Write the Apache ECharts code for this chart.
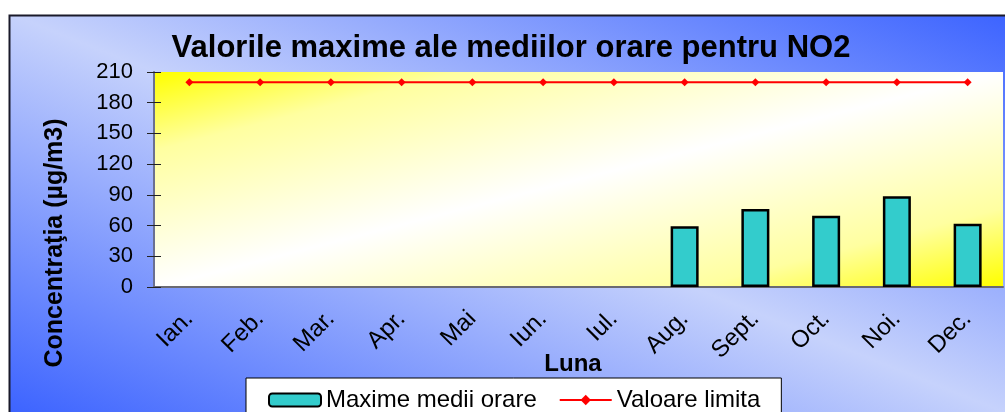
<!DOCTYPE html>
<html>
<head>
<meta charset="utf-8">
<script src="https://cdn.jsdelivr.net/npm/echarts@6/dist/echarts.min.js"></script>
<style>
  html, body { margin: 0; padding: 0; background: #fff; }
  #main { width: 1005px; height: 412px; }
</style>
</head>
<body>
<div id="main"></div>
<script>
(function () {
  var myChart = echarts.init(document.getElementById('main'));

  // lunile anului
  var months = ['Ian.', 'Feb.', 'Mar.', 'Apr.', 'Mai', 'Iun.', 'Iul.', 'Aug.', 'Sept.', 'Oct.', 'Noi.', 'Dec.'];
  // maxime ale mediilor orare (µg/m3), fara date ian.-iul.
  var maxHourly = [null, null, null, null, null, null, null, 59.4, 76.2, 69.6, 88.6, 61.8];
  // valoare limita
  var limitValue = [200, 200, 200, 200, 200, 200, 200, 200, 200, 200, 200, 200];

  var font = '"Liberation Sans", Arial, sans-serif';

  var option = {
    animation: false,
    title: {
      text: 'Valorile maxime ale mediilor orare pentru NO2',
      left: 506,
      textAlign: 'center',
      top: 28,
      textStyle: { fontFamily: font, fontSize: 31, fontWeight: 'bold', color: '#000' }
    },
    graphic: [
      {
        type: 'rect', z: -10, silent: true,
        shape: { x: 9.5, y: 15.5, width: 1005, height: 405 },
        style: {
          fill: {
            type: 'linear', global: true,
            x: 370, y: 555, x2: 644, y2: -129,
            colorStops: [
              { offset: 0, color: '#3d64ff' },
              { offset: 0.5, color: '#c6d2fc' },
              { offset: 1, color: '#3d64ff' }
            ]
          },
          stroke: '#1a1a2a', lineWidth: 2
        }
      },
      {
        type: 'text', silent: true,
        x: 55, y: 243, rotation: Math.PI / 2,
        style: {
          text: 'Concentraţia (µg/m3)',
          font: 'bold 25px ' + font,
          fill: '#000', align: 'center', verticalAlign: 'middle'
        }
      },
      {
        type: 'text', silent: true,
        x: 573, y: 364,
        style: {
          text: 'Luna',
          font: 'bold 24px ' + font,
          fill: '#000', align: 'center', verticalAlign: 'middle'
        }
      }
    ],
    legend: {
      left: 246, top: 378,
      padding: [10, 21, 14, 22],
      itemGap: 22,
      itemWidth: 52,
      itemHeight: 13,
      backgroundColor: '#fff',
      borderColor: '#000',
      borderWidth: 1,
      borderRadius: 0,
      textStyle: { fontFamily: font, fontSize: 24, color: '#000' },
      data: ['Maxime medii orare', 'Valoare limita']
    },
    grid: {
      left: 154, top: 72, right: 2, bottom: 125,
      show: true,
      borderWidth: 0,
      backgroundColor: {
        type: 'linear', global: true,
        x: 527, y: -22, x2: 630, y2: 381,
        colorStops: [
          { offset: 0, color: '#ffff00' },
          { offset: 0.18, color: '#ffffa0' },
          { offset: 0.5, color: '#ffffff' },
          { offset: 0.82, color: '#ffffa0' },
          { offset: 1, color: '#ffff00' }
        ]
      }
    },
    xAxis: {
      type: 'category',
      data: months,
      axisLine: { lineStyle: { color: '#6a6a72', width: 2 } },
      axisTick: { show: false },
      axisLabel: {
        rotate: 45, margin: 28, interval: 0,
        fontFamily: font, fontSize: 24, color: '#000'
      }
    },
    yAxis: [
      {
        type: 'value', min: 0, max: 210, interval: 30,
        splitLine: { show: false },
        axisLine: { show: true, lineStyle: { color: '#6a7090', width: 2 } },
        axisTick: { show: true, length: 7, lineStyle: { color: '#222' } },
        axisLabel: { margin: 21, fontFamily: font, fontSize: 22, color: '#000' }
      },
      {
        type: 'value', min: 0, max: 210, interval: 30, position: 'left',
        splitLine: { show: false },
        axisLine: { show: false },
        axisTick: { show: true, inside: true, length: 7, lineStyle: { color: '#222' } },
        axisLabel: { show: false }
      }
    ],
    series: [
      {
        name: 'Maxime medii orare',
        type: 'bar',
        barWidth: 28,
        data: maxHourly,
        itemStyle: { color: '#33cccc', borderColor: '#000', borderWidth: 2.5 }
      },
      {
        name: 'Valoare limita',
        type: 'line',
        data: limitValue,
        symbol: 'diamond',
        symbolSize: 8,
        lineStyle: { color: '#ff0000', width: 2 },
        itemStyle: { color: '#ff0000' }
      }
    ]
  };

  myChart.setOption(option);
})();
</script>
</body>
</html>
